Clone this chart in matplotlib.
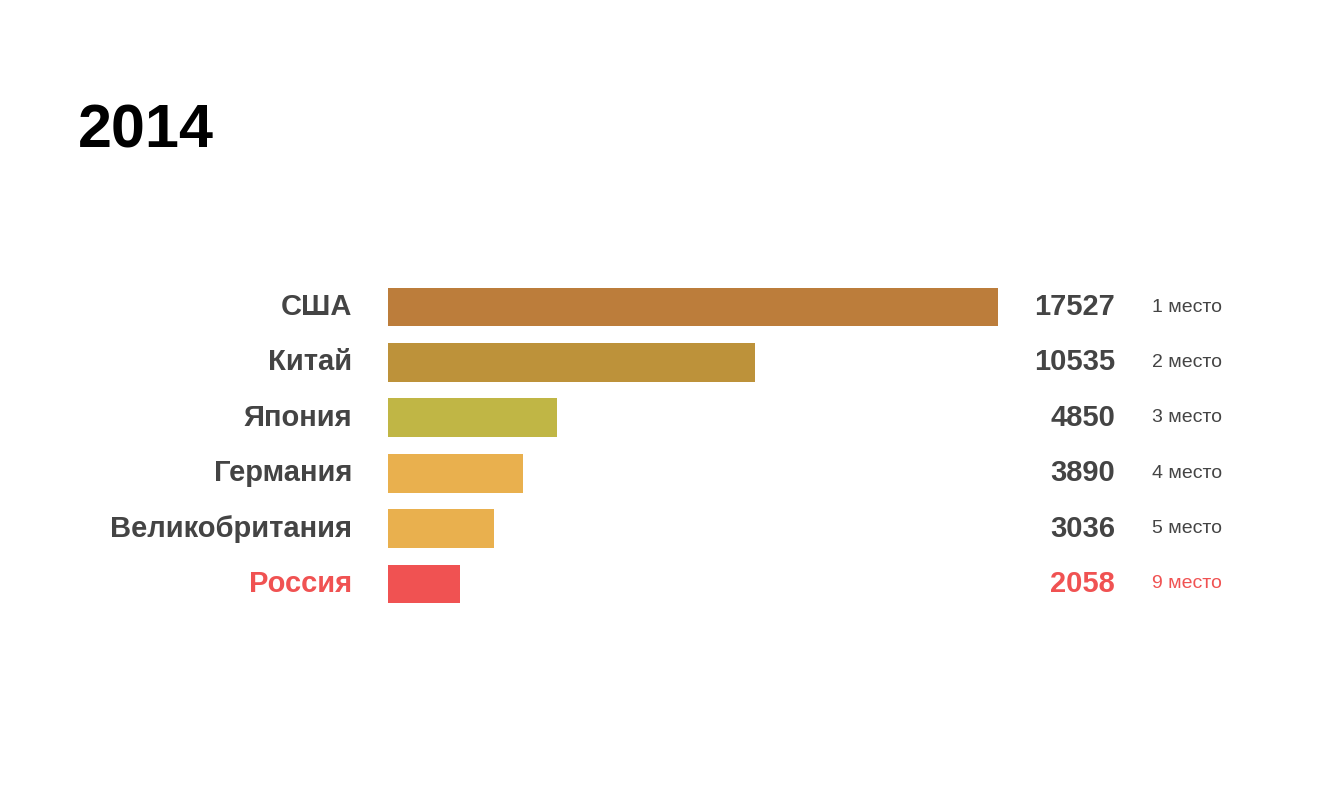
import matplotlib
matplotlib.use("Agg")
import matplotlib.pyplot as plt

countries = ["США", "Китай", "Япония", "Германия", "Великобритания", "Россия"]
values = [17527, 10535, 4850, 3890, 3036, 2058]
places = ["1 место", "2 место", "3 место", "4 место", "5 место", "9 место"]
bar_colors = ["#BC7D3B", "#BD923A", "#C0B645", "#E9B04E", "#E9B04E", "#F05252"]
text_colors = ["#444444"] * 5 + ["#F05252"]

plt.rcParams['font.family'] = ['Liberation Sans', 'DejaVu Sans']
W, H = 1320, 811
fig = plt.figure(figsize=(W/100, H/100), dpi=100)
left, right = 388, 998
top, bottom = 279.3, 611.7
ax = fig.add_axes([left/W, 1-bottom/H, (right-left)/W, (bottom-top)/H])
y = list(range(len(countries)))
ax.barh(y, values, height=0.70, color=bar_colors)
ax.set_xlim(0, max(values))
ax.set_ylim(len(countries)-0.5, -0.5)
ax.axis('off')
tr = ax.get_yaxis_transform()
span = right-left
for i, (c, v, p, tc) in enumerate(zip(countries, values, places, text_colors)):
    ax.text((352-left)/span, i, c, transform=tr, ha='right', va='center',
            fontsize=21, fontweight='bold', color=tc)
    ax.text((1115-left)/span, i, str(v), transform=tr, ha='right', va='center',
            fontsize=21, fontweight='bold', color=tc)
    ax.text((1152-left)/span, i, p, transform=tr, ha='left', va='center',
            fontsize=14, color=tc)
fig.text(78/W, 1-147/H, "2014", ha='left', va='baseline', fontsize=44,
         fontweight='bold', color='black')
fig.savefig("out.png", dpi=100)
